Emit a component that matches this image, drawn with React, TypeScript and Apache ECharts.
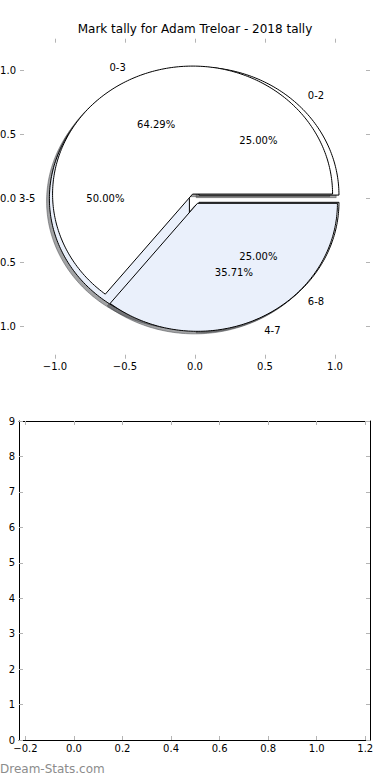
import React, { useEffect, useRef } from "react";
import * as echarts from "echarts";

const chartTitle = "Mark tally for Adam Treloar - 2018 tally";
const watermark = "Dream-Stats.com";

// outer pie (drawn on top)
const outerLabels = ["0-3", "4-7"];
const outerCounts = [9, 5];
const outerExplode = [0.04, 0.04];

// second pie (drawn underneath)
const innerLabels = ["0-2", "3-5", "6-8"];
const innerCounts = [1, 2, 1];
const innerExplode = [0.04, 0.04, 0.04];

const sliceColors = ["#ffffff", "#eaf0fb"];

const pieAxisTicks = [-1, -0.5, 0, 0.5, 1];
const emptyXTicks = [-0.2, 0, 0.2, 0.4, 0.6, 0.8, 1.0, 1.2];
const emptyYTicks = [0, 1, 2, 3, 4, 5, 6, 7, 8, 9];

const FONT = "DejaVu Sans";
const TICK_COLOR = "#b4b4b4";

type Slice = {
  label: string;
  pct: string;
  t1: number;
  t2: number;
  mid: number;
  cx: number;
  cy: number;
  color: string;
};

function buildSlices(labels: string[], counts: number[], explode: number[]): Slice[] {
  const total = counts.reduce((a, b) => a + b, 0);
  let acc = 0;
  return counts.map((c, i) => {
    const t1 = (acc / total) * 360;
    acc += c;
    const t2 = (acc / total) * 360;
    const mid = (((t1 + t2) / 2) * Math.PI) / 180;
    return {
      label: labels[i],
      pct: ((c / total) * 100).toFixed(2) + "%",
      t1,
      t2,
      mid,
      cx: explode[i] * Math.cos(mid),
      cy: explode[i] * Math.sin(mid),
      color: sliceColors[i % sliceColors.length],
    };
  });
}

function shadowColor(hex: string) {
  const n = parseInt(hex.slice(1), 16);
  const r = Math.round(((n >> 16) & 255) * 0.3);
  const g = Math.round(((n >> 8) & 255) * 0.3);
  const b = Math.round((n & 255) * 0.3);
  return `rgba(${r},${g},${b},0.5)`;
}

function wedgePoints(s: Slice, api: any, dx: number, dy: number) {
  const pts: number[][] = [api.coord([s.cx + dx, s.cy + dy])];
  const steps = Math.max(2, Math.ceil(s.t2 - s.t1));
  for (let k = 0; k <= steps; k++) {
    const a = ((s.t1 + ((s.t2 - s.t1) * k) / steps) * Math.PI) / 180;
    pts.push(api.coord([s.cx + dx + Math.cos(a), s.cy + dy + Math.sin(a)]));
  }
  return pts;
}

const fmt1 = (v: number) => (v < 0 ? "\u2212" : "") + Math.abs(v).toFixed(1);

export default function App() {
  const ref = useRef<HTMLDivElement>(null);

  useEffect(() => {
    if (!ref.current) return;
    const chart = echarts.init(ref.current, null, { renderer: "svg" });

    const outer = buildSlices(outerLabels, outerCounts, outerExplode);
    const inner = buildSlices(innerLabels, innerCounts, innerExplode);
    const all = [...inner, ...outer];

    const shadowSeries = {
      type: "custom",
      coordinateSystem: "cartesian2d",
      xAxisIndex: 0,
      yAxisIndex: 0,
      silent: true,
      z: 1,
      data: all.map((s, i) => [i, s.t2 - s.t1]),
      renderItem: (_p: any, api: any) => {
        const s = all[api.value(0)];
        const c = shadowColor(s.color);
        return {
          type: "polygon",
          shape: { points: wedgePoints(s, api, -0.02, -0.02) },
          style: { fill: c, stroke: c, lineWidth: 1 },
        };
      },
    };

    const wedgeSeries = (slices: Slice[], z: number) => ({
      type: "custom",
      coordinateSystem: "cartesian2d",
      xAxisIndex: 0,
      yAxisIndex: 0,
      silent: true,
      z,
      data: slices.map((s, i) => [i, s.t2 - s.t1]),
      renderItem: (_p: any, api: any) => {
        const s = slices[api.value(0)];
        return {
          type: "polygon",
          shape: { points: wedgePoints(s, api, 0, 0) },
          style: { fill: s.color, stroke: "#000", lineWidth: 1, lineJoin: "miter" },
        };
      },
    });

    const labelSeries = {
      type: "custom",
      coordinateSystem: "cartesian2d",
      xAxisIndex: 0,
      yAxisIndex: 0,
      silent: true,
      z: 10,
      data: all.map((s, i) => [i, s.t2 - s.t1]),
      renderItem: (_p: any, api: any) => {
        const s = all[api.value(0)];
        const lx = s.cx + 1.1 * Math.cos(s.mid);
        const ly = s.cy + 1.1 * Math.sin(s.mid);
        const px = s.cx + 0.6 * Math.cos(s.mid);
        const py = s.cy + 0.6 * Math.sin(s.mid);
        const lp = api.coord([lx, ly]);
        const pp = api.coord([px, py]);
        const base = { fontSize: 10, fontFamily: FONT, fill: "#000" };
        return {
          type: "group",
          children: [
            {
              type: "text",
              x: lp[0],
              y: lp[1],
              style: { ...base, text: s.label, align: lx > 0 ? "left" : "right", verticalAlign: "middle" },
            },
            {
              type: "text",
              x: pp[0],
              y: pp[1],
              style: { ...base, text: s.pct, align: "center", verticalAlign: "middle" },
            },
          ],
        };
      },
    };

    const tickStyle = { show: true, inside: true, length: 4, lineStyle: { color: TICK_COLOR, width: 1 } };
    const labelStyle = { fontSize: 10, fontFamily: FONT, color: "#000" };
    const hiddenLine = { show: true, onZero: false, lineStyle: { color: "rgba(0,0,0,0)", width: 1 } };
    const blackLine = { show: true, onZero: false, lineStyle: { color: "#000", width: 1 } };

    const option: any = {
      animation: false,
      title: {
        text: chartTitle,
        left: "center",
        top: 23,
        padding: 0,
        textStyle: { fontSize: 12, fontWeight: "normal", fontFamily: FONT, color: "#000" },
      },
      graphic: [
        {
          type: "text",
          left: 0,
          top: 763,
          style: { text: watermark, fontSize: 12, fontFamily: FONT, fill: "#8c8c8c" },
        },
      ],
      grid: [
        { left: 20, top: 38.7, width: 350, height: 320, outerBoundsMode: "none", containLabel: false },
        { left: 19, top: 421, width: 351, height: 319, outerBoundsMode: "none", containLabel: false },
      ],
      xAxis: [
        {
          gridIndex: 0, type: "value", position: "bottom", min: -1.25, max: 1.25,
          axisLine: hiddenLine, splitLine: { show: false },
          axisTick: { ...tickStyle, customValues: pieAxisTicks },
          axisLabel: { ...labelStyle, margin: 3, customValues: pieAxisTicks, formatter: fmt1 },
        },
        {
          gridIndex: 0, type: "value", position: "top", min: -1.25, max: 1.25,
          axisLine: hiddenLine, splitLine: { show: false },
          axisTick: { ...tickStyle, customValues: pieAxisTicks },
          axisLabel: { show: false },
        },
        {
          gridIndex: 1, type: "value", position: "bottom", min: -0.2265, max: 1.2195,
          axisLine: blackLine, splitLine: { show: false },
          axisTick: { ...tickStyle, customValues: emptyXTicks },
          axisLabel: { ...labelStyle, margin: 3, customValues: emptyXTicks, formatter: fmt1 },
        },
        {
          gridIndex: 1, type: "value", position: "top", min: -0.2265, max: 1.2195,
          axisLine: blackLine, splitLine: { show: false },
          axisTick: { ...tickStyle, customValues: emptyXTicks },
          axisLabel: { show: false },
        },
      ],
      yAxis: [
        {
          gridIndex: 0, type: "value", position: "left", min: -1.25, max: 1.25,
          axisLine: hiddenLine, splitLine: { show: false },
          axisTick: { ...tickStyle, customValues: pieAxisTicks },
          axisLabel: { ...labelStyle, margin: 4, customValues: pieAxisTicks, formatter: fmt1 },
        },
        {
          gridIndex: 0, type: "value", position: "right", min: -1.25, max: 1.25,
          axisLine: hiddenLine, splitLine: { show: false },
          axisTick: { ...tickStyle, customValues: pieAxisTicks },
          axisLabel: { show: false },
        },
        {
          gridIndex: 1, type: "value", position: "left", min: 0, max: 9, interval: 1,
          axisLine: blackLine, splitLine: { show: false },
          axisTick: { ...tickStyle, customValues: emptyYTicks },
          axisLabel: { ...labelStyle, margin: 4, customValues: emptyYTicks, formatter: (v: number) => String(v) },
        },
        {
          gridIndex: 1, type: "value", position: "right", min: 0, max: 9, interval: 1,
          axisLine: blackLine, splitLine: { show: false },
          axisTick: { ...tickStyle, customValues: emptyYTicks },
          axisLabel: { show: false },
        },
      ],
      series: [shadowSeries, wedgeSeries(inner, 2), wedgeSeries(outer, 3), labelSeries],
    };

    chart.setOption(option);
    return () => chart.dispose();
  }, []);

  return (
    <div
      ref={ref}
      style={{ position: "absolute", left: 0, top: 0, width: 390, height: 780, background: "#fff" }}
    />
  );
}
